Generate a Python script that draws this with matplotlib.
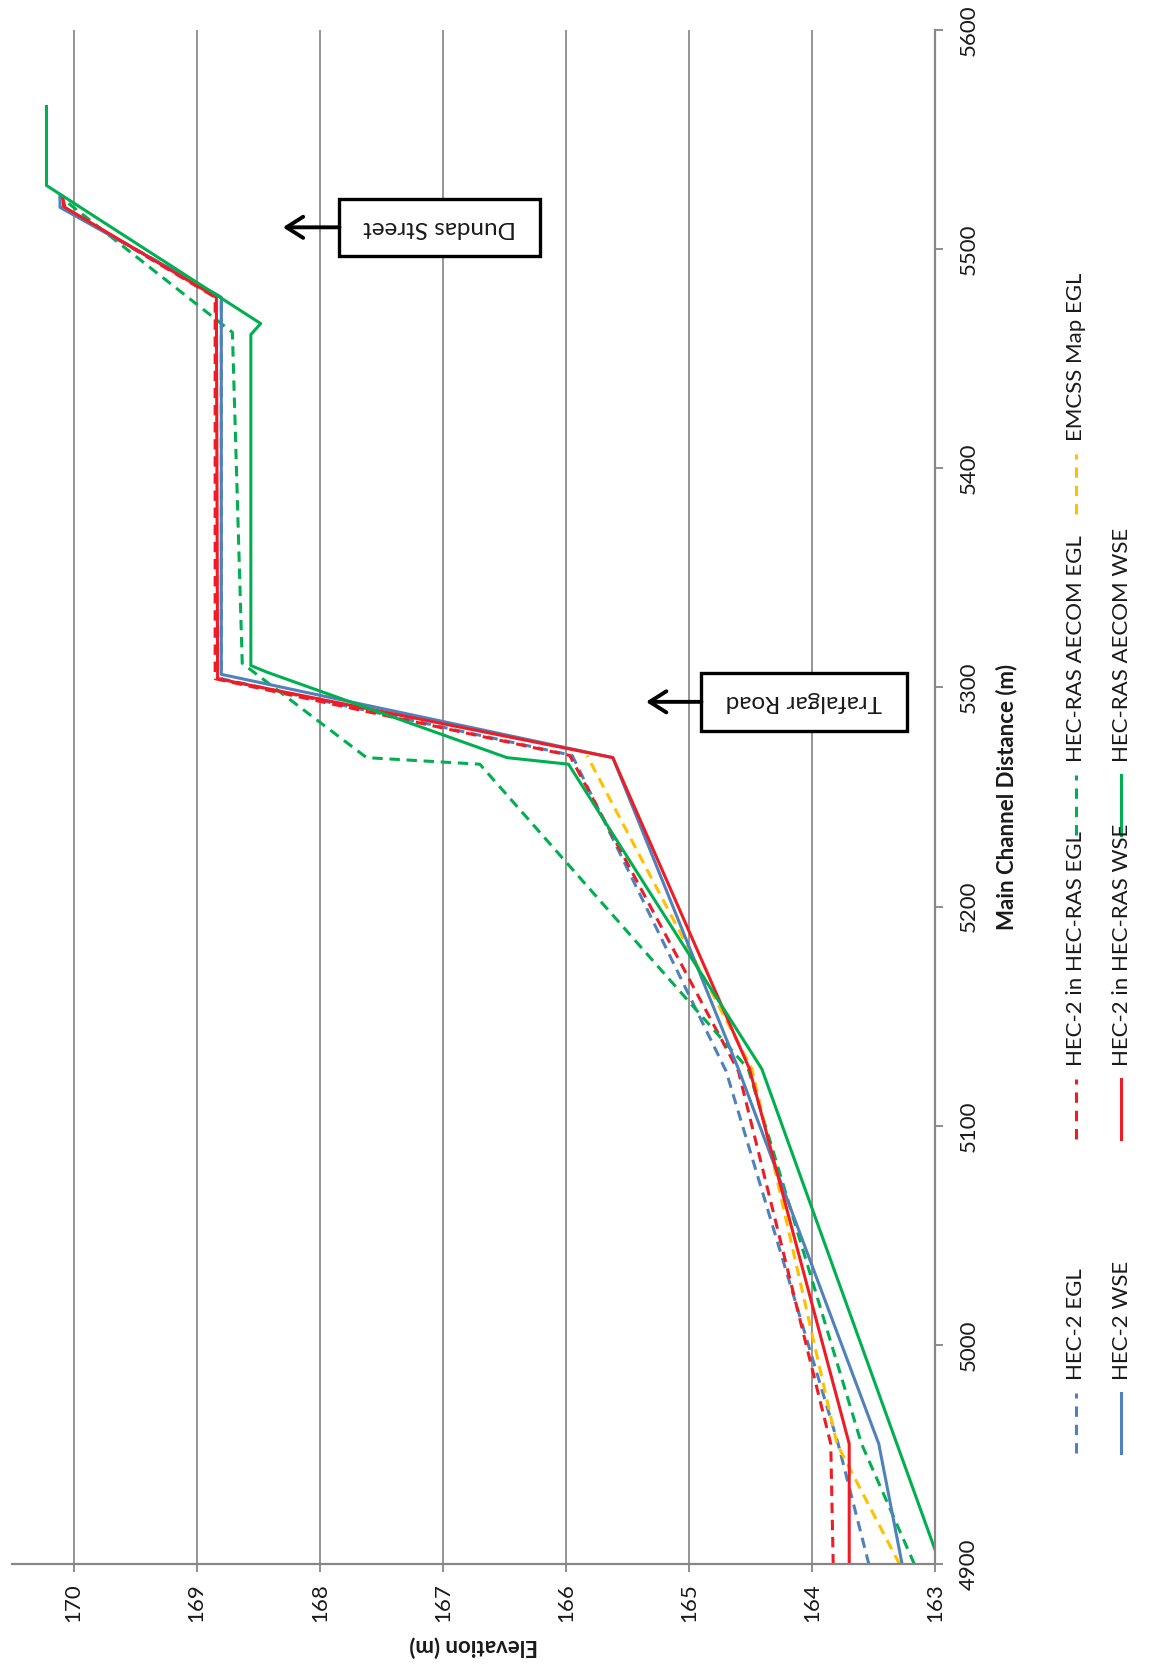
import matplotlib
matplotlib.use("Agg")
import matplotlib.pyplot as plt
from matplotlib.lines import Line2D
from matplotlib.patches import Rectangle

plt.rcParams['font.family'] = ['Lato', 'DejaVu Sans']

# ---- data: main channel distance (m) vs elevation (m) ----
hec2_egl_dist = [4900, 4955, 5125, 5269, 5304, 5478, 5519, 5524]
hec2_egl_elev = [163.54, 163.79, 164.70, 165.95, 168.80, 168.80, 170.10, 170.11]

hec2_wse_dist = [4900, 4955, 5126, 5268, 5306, 5478, 5519, 5524]
hec2_wse_elev = [163.27, 163.46, 164.60, 165.62, 168.80, 168.80, 170.11, 170.11]

hec2_ras_egl_dist = [4900, 4955, 5125, 5269, 5304, 5478, 5519, 5524]
hec2_ras_egl_elev = [163.83, 163.85, 164.60, 165.97, 168.85, 168.85, 170.08, 170.09]

hec2_ras_wse_dist = [4900, 4955, 5126, 5268, 5304, 5478, 5519, 5524]
hec2_ras_wse_elev = [163.70, 163.70, 164.51, 165.62, 168.83, 168.84, 170.07, 170.09]

aecom_egl_dist = [4900, 4955, 5126, 5265, 5268, 5311, 5462, 5523]
aecom_egl_elev = [163.17, 163.60, 164.52, 166.70, 167.62, 168.63, 168.71, 170.09]

aecom_wse_dist = [4900, 5126, 5265, 5268, 5307, 5310, 5461, 5466, 5529, 5565]
aecom_wse_elev = [162.96, 164.41, 165.98, 166.48, 168.43, 168.56, 168.56, 168.48, 170.22, 170.22]

emcss_egl_dist = [4900, 4955, 5126, 5269]
emcss_egl_elev = [163.29, 163.80, 164.49, 165.83]

elev_ticks = [163, 164, 165, 166, 167, 168, 169, 170]
dist_ticks = [4900, 5000, 5100, 5200, 5300, 5400, 5500, 5600]

BLUE = '#4F81BD'
RED = '#EE1C25'
GREEN = '#00B050'
YELLOW = '#FFC000'
AXIS_GREY = '#868686'
GRID_GREY = '#8C8C8C'

series = [
    ("HEC-2 EGL", hec2_egl_dist, hec2_egl_elev, BLUE, '--'),
    ("HEC-2 in HEC-RAS EGL", hec2_ras_egl_dist, hec2_ras_egl_elev, RED, '--'),
    ("HEC-RAS AECOM EGL", aecom_egl_dist, aecom_egl_elev, GREEN, '--'),
    ("EMCSS Map EGL", emcss_egl_dist, emcss_egl_elev, YELLOW, '--'),
    ("HEC-2 WSE", hec2_wse_dist, hec2_wse_elev, BLUE, '-'),
    ("HEC-2 in HEC-RAS WSE", hec2_ras_wse_dist, hec2_ras_wse_elev, RED, '-'),
    ("HEC-RAS AECOM WSE", aecom_wse_dist, aecom_wse_elev, GREEN, '-'),
]

W_PX, H_PX = 1150, 1671
fig = plt.figure(figsize=(W_PX / 100, H_PX / 100), dpi=100)

# plot frame (pixel edges), chart drawn turned on its side
left_px, right_px, top_px, bottom_px = 12, 935.4, 29.8, 1564.4
ax = fig.add_axes([left_px / W_PX, 1 - bottom_px / H_PX,
                   (right_px - left_px) / W_PX, (bottom_px - top_px) / H_PX])

DASH = (3.4, 2.2)
for name, d, e, col, ls in series:
    kw = dict(color=col, lw=2.2, solid_joinstyle='round', dash_capstyle='butt')
    if ls == '--':
        ax.plot(e, d, dashes=DASH, **kw)
    else:
        ax.plot(e, d, **kw)

ax.set_xlim(170.5, 163)
ax.set_ylim(4900, 5600)
ax.set_xticks(elev_ticks)
ax.set_yticks(dist_ticks)
ax.grid(axis='x', color=GRID_GREY, lw=1.3)
ax.grid(axis='y', visible=False)
ax.set_axisbelow(True)

for s in ('left', 'top'):
    ax.spines[s].set_visible(False)
for s in ('right', 'bottom'):
    ax.spines[s].set_color(AXIS_GREY)
    ax.spines[s].set_linewidth(1.6)

ax.yaxis.tick_right()
ax.yaxis.set_label_position('right')
ax.tick_params(axis='both', direction='out', length=5.8, width=1.3,
               color=AXIS_GREY, labelsize=16, labelcolor='#1a1a1a')
ax.tick_params(axis='x', pad=8)
ax.tick_params(axis='y', pad=11)

ax.set_xticklabels([str(v) for v in elev_ticks], rotation=90, ha='center', va='top')
ax.set_yticklabels([str(v) for v in dist_ticks], rotation=90, ha='left', va='center')

ax.set_xlabel('Elevation (m)', fontsize=16, fontweight='bold', rotation=180,
              ha='center', va='center', color='#1a1a1a')
ax.xaxis.set_label_coords(0.5, -(1646.5 - bottom_px) / (bottom_px - top_px))
ax.set_ylabel('Main Channel Distance (m)', fontsize=16, fontweight='bold',
              rotation=90, ha='center', va='center', color='#1a1a1a')
ax.yaxis.set_label_coords((1007 - left_px) / (right_px - left_px), 0.5)

# ---- road call-outs ----
def callout(text, e_lo, e_hi, d_lo, d_hi, tip_e):
    rect = Rectangle((e_lo, d_lo), e_hi - e_lo, d_hi - d_lo, facecolor='white',
                     edgecolor='black', lw=2.4, zorder=5)
    ax.add_patch(rect)
    ax.text((e_lo + e_hi) / 2, (d_lo + d_hi) / 2, text, rotation=180,
            ha='center', va='center', fontsize=17.5, color='#1a1a1a', zorder=6)
    d_mid = (d_lo + d_hi) / 2
    ax.annotate('', xy=(tip_e, d_mid), xytext=(e_hi, d_mid),
                arrowprops=dict(arrowstyle='->,head_length=0.6,head_width=0.38',
                                lw=2.8, color='black', shrinkA=0, shrinkB=0,
                                mutation_scale=20), zorder=6)

callout('Dundas Street', 166.21, 167.84, 5496.8, 5523.0, 168.30)
callout('Trafalgar Road', 163.23, 164.90, 5280.1, 5306.8, 165.35)

# ---- legend, laid out in two columns ----
def fx(px):
    return px / W_PX

def fy(py):
    return 1 - py / H_PX

col_x = {'EGL': 1075.5, 'WSE': 1120.5}
row_bottom = [1453, 1139, 835, 514]
legend_rows = {
    "HEC-2 EGL": ('EGL', 0), "HEC-2 in HEC-RAS EGL": ('EGL', 1),
    "HEC-RAS AECOM EGL": ('EGL', 2), "EMCSS Map EGL": ('EGL', 3),
    "HEC-2 WSE": ('WSE', 0), "HEC-2 in HEC-RAS WSE": ('WSE', 1),
    "HEC-RAS AECOM WSE": ('WSE', 2),
}
for name, d, e, col, ls in series:
    c, r = legend_rows[name]
    x = col_x[c]
    yb = row_bottom[r]
    ln = Line2D([fx(x), fx(x)], [fy(yb), fy(yb - 60)], transform=fig.transFigure,
                color=col, lw=2.2, dash_capstyle='butt')
    if ls == '--':
        ln.set_dashes((3.4, 2.6))
    fig.add_artist(ln)
    fig.text(fx(x + 1), fy(yb - 73), name, rotation=90, ha='center', va='bottom',
             fontsize=16, color='#1a1a1a')

fig.savefig('out.png', dpi=100, facecolor='white')
